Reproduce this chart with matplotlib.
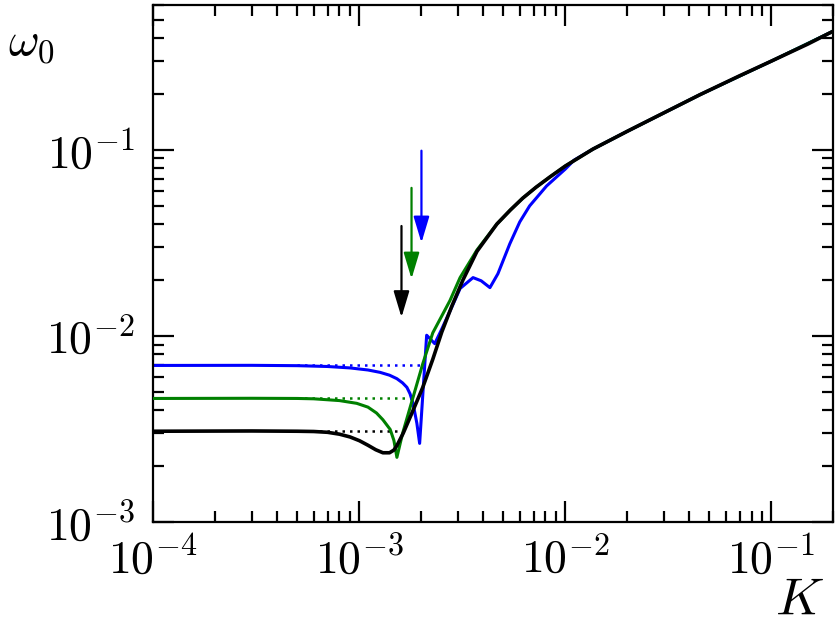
import numpy as np
import matplotlib.pyplot as plt
import matplotlib as mpl
from matplotlib.ticker import LogLocator, FuncFormatter, NullFormatter

mpl.rcParams.update({
    "mathtext.fontset": "cm",
    "font.family": "serif",
    "font.size": 33,
    "axes.linewidth": 1.6,
})

# black curve (K, omega_0)
k_black = [1e-4, 3e-4, 5e-4, 6e-4, 7e-4, 8e-4, 9e-4, 1.0e-3, 1.1e-3, 1.2e-3,
           1.3e-3, 1.4e-3, 1.47e-3, 1.52e-3, 1.63e-3, 1.82e-3, 2.03e-3, 2.27e-3,
           2.51e-3, 2.81e-3, 3.18e-3, 3.72e-3, 4.65e-3, 5.4e-3, 6.2e-3, 7.2e-3,
           8.4e-3, 1.0e-2, 1.36e-2, 2.0e-2, 3.0e-2, 4.5e-2, 7.0e-2, 0.1, 0.15, 0.2]
w_black = [3.08e-3, 3.09e-3, 3.08e-3, 3.07e-3, 3.04e-3, 2.97e-3, 2.87e-3, 2.74e-3, 2.59e-3, 2.45e-3,
           2.36e-3, 2.36e-3, 2.44e-3, 2.58e-3, 3.0e-3, 3.98e-3, 5.3e-3, 7.5e-3,
           1.05e-2, 1.45e-2, 2.0e-2, 2.85e-2, 4.0e-2, 4.75e-2, 5.5e-2, 6.3e-2,
           7.15e-2, 8.2e-2, 0.101, 0.126, 0.158, 0.198, 0.25, 0.30, 0.37, 0.435]

# green curve
k_green = [1e-4, 3e-4, 5e-4, 6e-4, 8e-4, 9.7e-4, 1.1e-3, 1.21e-3, 1.3e-3, 1.41e-3,
           1.47e-3, 1.52e-3, 1.62e-3, 1.82e-3, 2.03e-3, 2.27e-3, 2.75e-3, 3.08e-3,
           3.72e-3, 4.65e-3, 5.4e-3, 6.2e-3, 7.2e-3, 8.4e-3, 1.0e-2, 1.36e-2, 2.0e-2,
           4.5e-2, 0.1, 0.2]
w_green = [4.62e-3, 4.63e-3, 4.62e-3, 4.60e-3, 4.50e-3, 4.35e-3, 4.15e-3, 3.86e-3, 3.55e-3, 3.15e-3,
           2.75e-3, 2.23e-3, 3.0e-3, 4.68e-3, 7.1e-3, 1.04e-2, 1.55e-2, 2.06e-2,
           2.9e-2, 4.0e-2, 4.75e-2, 5.5e-2, 6.3e-2, 7.15e-2, 8.2e-2, 0.101, 0.126,
           0.198, 0.30, 0.435]

# blue curve
k_blue = [1e-4, 3e-4, 5e-4, 7e-4, 9e-4, 1.1e-3, 1.26e-3, 1.4e-3, 1.52e-3, 1.62e-3,
          1.70e-3, 1.76e-3, 1.82e-3, 1.90e-3, 1.96e-3, 2.12e-3, 2.32e-3, 2.5e-3,
          2.8e-3, 3.08e-3, 3.56e-3, 3.9e-3, 4.3e-3, 4.7e-3, 5.37e-3, 6.0e-3, 6.7e-3,
          8.1e-3, 1.0e-2, 1.1e-2, 1.36e-2, 2.0e-2, 4.5e-2, 0.1, 0.2]
w_blue = [6.95e-3, 6.96e-3, 6.93e-3, 6.86e-3, 6.74e-3, 6.57e-3, 6.38e-3, 6.16e-3, 5.9e-3, 5.6e-3,
          5.3e-3, 4.9e-3, 4.35e-3, 3.40e-3, 2.65e-3, 1.01e-2, 9.1e-3, 1.08e-2,
          1.42e-2, 1.8e-2, 2.06e-2, 1.98e-2, 1.82e-2, 2.16e-2, 3.13e-2, 4.1e-2, 5.0e-2,
          6.4e-2, 7.9e-2, 8.8e-2, 0.101, 0.126, 0.198, 0.30, 0.435]

# plateau values (dotted) and arrow positions
plateau = {"black": 3.08e-3, "green": 4.62e-3, "blue": 6.95e-3}
k_arrow = {"black": 1.6e-3, "green": 1.79e-3, "blue": 2.0e-3}
arrow_top = {"black": 0.039, "green": 0.0625, "blue": 0.099}
arrow_tip = {"black": 0.0126, "green": 0.0203, "blue": 0.0317}
k_dot_start = 5e-4

fig = plt.figure(figsize=(8.36, 6.28), dpi=100)
ax = fig.add_axes([0.1835, 0.1685, 0.8135, 0.8235])

for c in ["black", "green", "blue"]:
    ax.plot([k_dot_start, k_arrow[c]], [plateau[c], plateau[c]], color=c,
            linestyle=(0, (1, 2)), linewidth=1.8, zorder=1)

ax.plot(k_blue, w_blue, color="blue", linewidth=2.2, zorder=2)
ax.plot(k_green, w_green, color="green", linewidth=2.2, zorder=3)
ax.plot(k_black, w_black, color="black", linewidth=2.6, zorder=4)

for c in ["black", "green", "blue"]:
    ax.annotate("", xy=(k_arrow[c], arrow_tip[c]), xytext=(k_arrow[c], arrow_top[c]),
                arrowprops=dict(arrowstyle="-|>,head_length=0.8,head_width=0.24",
                                color=c, lw=1.6, shrinkA=0, shrinkB=0,
                                mutation_scale=20))

ax.set_xscale("log")
ax.set_yscale("log")
ax.set_xlim(1e-4, 0.2)
ax.set_ylim(1e-3, 0.6)

fmt = FuncFormatter(lambda v, p: r"$10^{%d}$" % round(np.log10(v)))
for axis in (ax.xaxis, ax.yaxis):
    axis.set_major_locator(LogLocator(base=10, numticks=10))
    axis.set_minor_locator(LogLocator(base=10, subs=np.arange(2, 10), numticks=10))
    axis.set_major_formatter(fmt)
    axis.set_minor_formatter(NullFormatter())

ax.tick_params(which="both", direction="in", top=True, right=True, width=1.6)
ax.tick_params(which="major", length=15)
ax.tick_params(which="minor", length=8)
ax.tick_params(axis="x", which="major", pad=11)
ax.tick_params(axis="y", which="major", pad=13)

fig.text(0.037, 0.932, r"$\omega_0$", fontsize=34, ha="center", va="center")
fig.text(0.956, 0.045, r"$K$", fontsize=38, ha="center", va="center")

fig.savefig("out.png", dpi=100)
